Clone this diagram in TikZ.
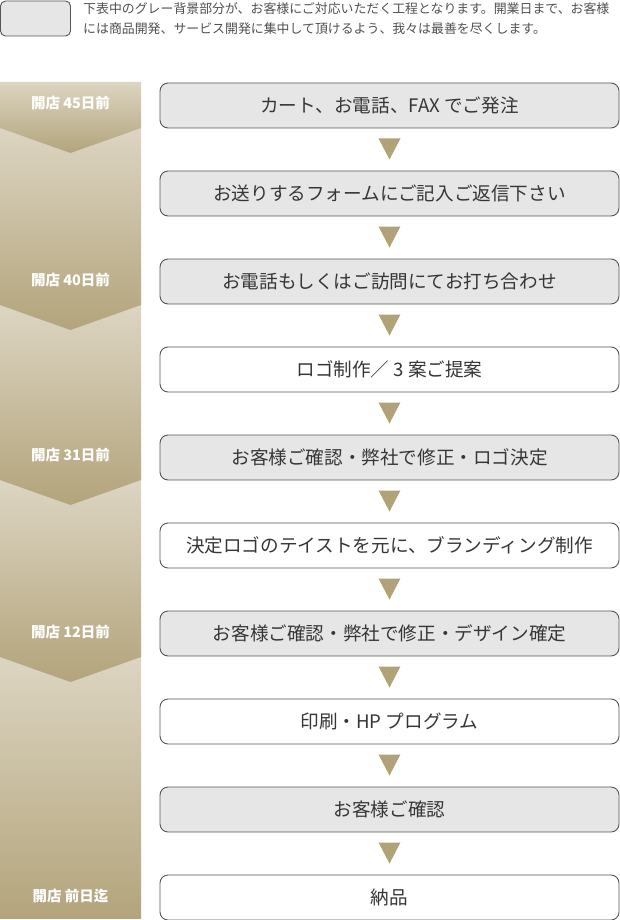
\documentclass[tikz,border=0pt]{standalone}
\usepackage{fontspec}
\setmainfont{Noto Sans CJK JP}
\usetikzlibrary{calc}
\definecolor{gold}{HTML}{B1A279}
\definecolor{goldlight}{HTML}{DCD5C2}
\definecolor{golddark}{HTML}{B3A47B}
\definecolor{boxgray}{HTML}{E6E6E6}
\definecolor{boxline}{HTML}{555555}
\definecolor{txt}{HTML}{363636}
\definecolor{legtxt}{HTML}{505050}
\tikzset{
  stepbox/.style={draw=boxline, line width=0.9pt, rounded corners=8pt,
    minimum width=459pt, minimum height=45pt, inner sep=0pt,
    font=\fontsize{18.6}{21}\selectfont, text=txt},
  graybox/.style={stepbox, fill=boxgray},
  whitebox/.style={stepbox, fill=white},
  daylabel/.style={text=white, font=\fontsize{14.5}{17}\selectfont\bfseries},
  segshade/.style={top color=goldlight, bottom color=golddark},
  tri/.style={fill=gold}
}
\begin{document}
\begin{tikzpicture}[x=1pt,y=-1pt]
\useasboundingbox (0,0) rectangle (620,920);
% legend
\node[draw=boxline, line width=0.9pt, fill=boxgray, rounded corners=5pt,
  minimum width=70pt, minimum height=35pt, inner sep=0pt] (legend) at (35.5,18.5) {};
\node[anchor=west, align=left, text=legtxt, inner sep=0pt,
  font=\fontsize{12.9}{20}\selectfont] (legtext) at (83,19)
  {下表中のグレー背景部分が、お客様にご対応いただく工程となります。開業日まで、お客様\\
   には商品開発、サービス開発に集中して頂けるよう、我々は最善を尽くします。};
% left column segments (drawn bottom-up)
\shade[segshade] (0,657) -- (141,657) -- (141,918) -- (0,918) -- cycle;
\shade[segshade] (0,480) -- (141,480) -- (141,657) -- (70.5,682) -- (0,657) -- cycle;
\shade[segshade] (0,305) -- (141,305) -- (141,480) -- (70.5,505) -- (0,480) -- cycle;
\shade[segshade] (0,128) -- (141,128) -- (141,305) -- (70.5,330) -- (0,305) -- cycle;
\shade[segshade] (0,82) -- (141,82) -- (141,128) -- (70.5,153) -- (0,128) -- cycle;
\node[daylabel] (l1) at (70.5,103) {開店 45日前};
\node[daylabel] (l2) at (70.5,280) {開店 40日前};
\node[daylabel] (l3) at (70.5,455) {開店 31日前};
\node[daylabel] (l4) at (70.5,632) {開店 12日前};
\node[daylabel] (l5) at (70.5,896) {開店 前日迄};
% step boxes
\node[graybox]  (b1)  at (389.5,105.5) {カート、お電話、FAX でご発注};
\node[graybox]  (b2)  at (389.5,193.5) {お送りするフォームにご記入ご返信下さい};
\node[graybox]  (b3)  at (389.5,281.5) {お電話もしくはご訪問にてお打ち合わせ};
\node[whitebox] (b4)  at (389.5,369.5) {ロゴ制作／ 3 案ご提案};
\node[graybox]  (b5)  at (389.5,457.5) {お客様ご確認・弊社で修正・ロゴ決定};
\node[whitebox] (b6)  at (389.5,545.5) {決定ロゴのテイストを元に、ブランディング制作};
\node[graybox]  (b7)  at (389.5,633.5) {お客様ご確認・弊社で修正・デザイン確定};
\node[whitebox] (b8)  at (389.5,721.5) {印刷・HP プログラム};
\node[graybox]  (b9)  at (389.5,809.5) {お客様ご確認};
\node[whitebox] (b10) at (389.5,897.5) {納品};
% arrows
\foreach \a/\b in {b1/b2,b2/b3,b3/b4,b4/b5,b5/b6,b6/b7,b7/b8,b8/b9,b9/b10}{
  \fill[tri] ($(\a.south)!0.5!(\b.north)+(-11,-11)$) -- ++(22,0) -- ++(-11,21) -- cycle;
}
\end{tikzpicture}
\end{document}
